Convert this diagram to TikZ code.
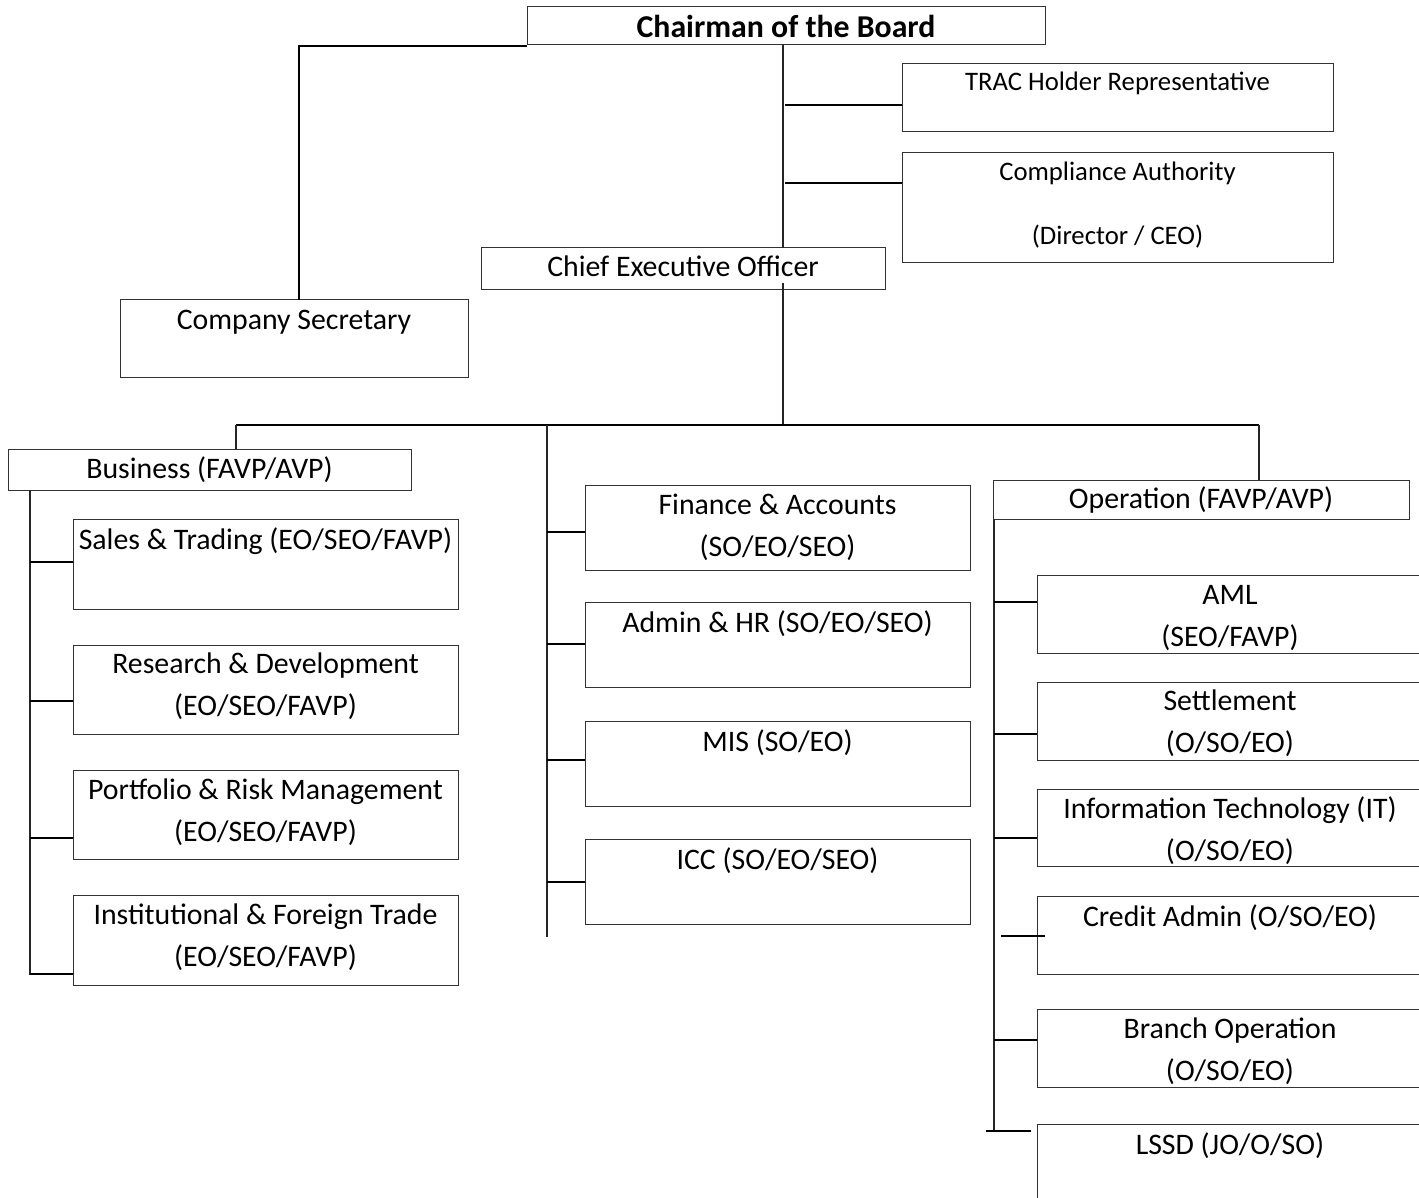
\documentclass[tikz,border=0pt]{standalone}
\usepackage{fontspec}
\setmainfont{Carlito}
\usetikzlibrary{calc}
\tikzset{
  box/.style={draw=black!80, line width=1pt, inner sep=0pt, outer sep=0pt, fill=none},
  txt/.style={anchor=base, inner sep=0pt, align=center, font=\fontsize{29.8}{42}\selectfont},
  conn/.style={draw=black, line width=1.6pt},
  spine/.style={draw=black!85, line width=1.1pt},
}
\newcommand{\orgbox}[6]{% name, cx, cy, w, h
  \node[box, minimum width=#4pt, minimum height=#5pt] (#1) at (#2,#3) {};}
\begin{document}
\begin{tikzpicture}[x=1pt,y=-1pt]
\useasboundingbox (0,0) rectangle (1419,1198);
\fill[white] (0,0) rectangle (1419,1198);
% boxes
\orgbox{chair}{786}{26}{518}{38}{}
\orgbox{cs}{294}{338.5}{348}{77}{}
\orgbox{trac}{1117.5}{98}{431}{68}{}
\orgbox{comp}{1117.5}{208}{431}{110}{}
\orgbox{ceo}{683}{269}{404}{42}{}
\orgbox{bus}{209.5}{469.5}{403}{41}{}
\orgbox{st}{265.5}{564}{385}{90}{}
\orgbox{rd}{265.5}{689.5}{385}{89}{}
\orgbox{pr}{265.5}{814.5}{385}{89}{}
\orgbox{inst}{265.5}{940}{385}{90}{}
\orgbox{fa}{777.5}{527.5}{385}{85}{}
\orgbox{ah}{777.5}{644.5}{385}{85}{}
\orgbox{mis}{777.5}{763.5}{385}{85}{}
\orgbox{icc}{777.5}{881.5}{385}{85}{}
\orgbox{op}{1201}{499.5}{416}{39}{}
\orgbox{aml}{1230}{614}{386}{78}{}
\orgbox{sett}{1230}{721}{386}{78}{}
\orgbox{it}{1230}{827.5}{386}{77}{}
\orgbox{ca}{1230}{935}{386}{78}{}
\orgbox{bo}{1230}{1048}{386}{78}{}
\orgbox{lssd}{1230}{1167}{386}{86}{}
% texts (multi-line nodes: base = baseline of the last line)
\node[txt, font=\fontsize{31.8}{42}\selectfont\bfseries] (chair-t) at (786,38) {Chairman of the Board};
\node[txt] (cs-t) at (294,330) {Company Secretary};
\node[txt, font=\fontsize{26.7}{42}\selectfont] (trac-t) at (1117.5,91) {TRAC Holder Representative};
\node[txt, font=\fontsize{26.7}{64}\selectfont] (comp-t) at (1117.5,245) {Compliance Authority\\(Director / CEO)};
\node[txt] (ceo-t) at (683,277) {Chief Executive Officer};
\node[txt] (bus-t) at (209.5,478) {Business (FAVP/AVP)};
\node[txt] (st-t) at (265.5,549) {Sales \& Trading (EO/SEO/FAVP)};
\node[txt] (rd-t) at (265.5,715) {Research \& Development\\(EO/SEO/FAVP)};
\node[txt] (pr-t) at (265.5,841) {Portfolio \& Risk Management\\(EO/SEO/FAVP)};
\node[txt] (inst-t) at (265.5,966) {Institutional \& Foreign Trade\\(EO/SEO/FAVP)};
\node[txt] (fa-t) at (777.5,556) {Finance \& Accounts\\(SO/EO/SEO)};
\node[txt] (ah-t) at (777.5,632) {Admin \& HR (SO/EO/SEO)};
\node[txt] (mis-t) at (777.5,751) {MIS (SO/EO)};
\node[txt] (icc-t) at (777.5,869) {ICC (SO/EO/SEO)};
\node[txt] (op-t) at (1201,508) {Operation (FAVP/AVP)};
\node[txt] (aml-t) at (1230,646) {AML\\(SEO/FAVP)};
\node[txt] (sett-t) at (1230,752) {Settlement\\(O/SO/EO)};
\node[txt] (it-t) at (1230,860) {Information Technology (IT)\\(O/SO/EO)};
\node[txt] (ca-t) at (1230,926) {Credit Admin (O/SO/EO)};
\node[txt] (bo-t) at (1230,1080) {Branch Operation\\(O/SO/EO)};
\node[txt] (lssd-t) at (1230,1154) {LSSD (JO/O/SO)};
% spine coordinates
\coordinate (top-l) at (236,425);
\coordinate (top-r) at (1259,425);
\coordinate (ceo-d) at (783,425);
\coordinate (mid-top) at (547,425);
\coordinate (mid-end) at (547,937);
\coordinate (bus-end) at (30,975);
\coordinate (op-end) at (994,1131);
\coordinate (ca-l) at (1001,936);
\coordinate (lssd-l) at (986,1131);
% chairman connectors
\draw[conn] ([yshift=-1]chair.south west) -| ([xshift=5]cs.north);
\draw[spine] ([xshift=-3]chair.south) -- ([xshift=100]ceo.north);
\coordinate (trac-l) at (785,105);
\coordinate (comp-l) at (785,183);
\draw[conn] (trac-l) -- (trac-l -| trac.west);
\draw[conn] (comp-l) -- (comp-l -| comp.west);
% ceo down (starts inside the CEO box, as in the original)
\draw[spine] ([xshift=100,yshift=7]ceo.south) -- (ceo-d);
\draw[conn] (top-l) -- (top-r);
\draw[spine] (top-l) -- (top-l |- bus.north);
\draw[spine] (top-r) -- (top-r |- op.north);
% business branch
\draw[spine] (bus.south west -| bus-end) -- (bus-end);
\foreach \n/\y in {st/562, rd/701, pr/838, inst/974}
  \draw[conn] (30,\y) -- (\n.west |- 30,\y);
% middle branch
\draw[spine] (mid-top) -- (mid-end);
\foreach \n/\y in {fa/532, ah/644, mis/760, icc/882}
  \draw[conn] (547,\y) -- (\n.west |- 547,\y);
% operation branch
\draw[spine] (op.south west -| op-end) -- (op-end);
\foreach \n/\y in {aml/602, sett/734, it/838, bo/1040}
  \draw[conn] (994,\y) -- (\n.west |- 994,\y);
\draw[conn] (ca-l) -- ([xshift=8]ca.west |- ca-l);
\draw[conn] (lssd-l) -- ([xshift=-6]lssd.west |- lssd-l);
\end{tikzpicture}
\end{document}
